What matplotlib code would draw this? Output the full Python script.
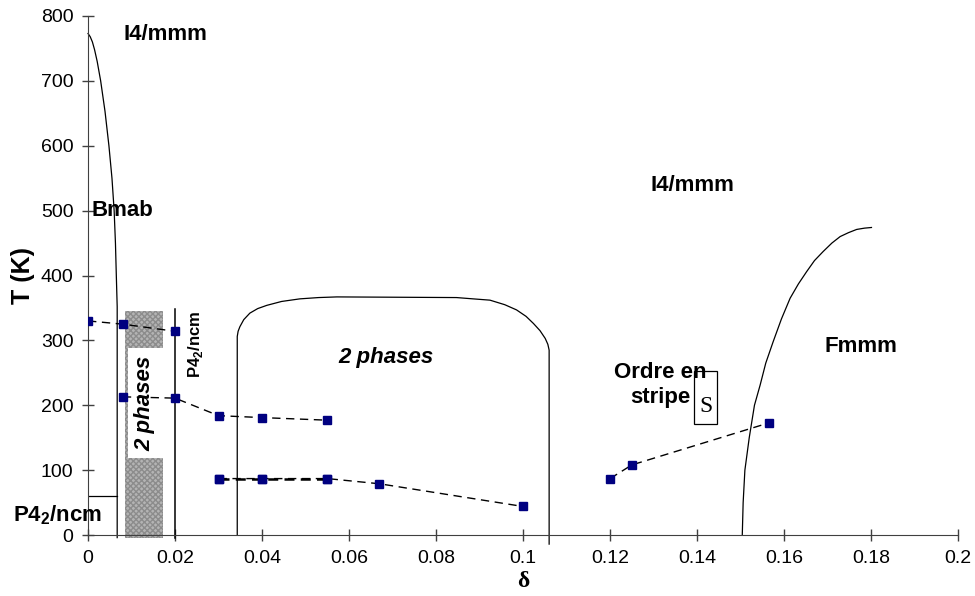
import matplotlib
matplotlib.use("Agg")
import matplotlib.pyplot as plt
from matplotlib.patches import Rectangle

plt.rcParams['font.family'] = ['Liberation Sans', 'DejaVu Sans']
plt.rcParams['mathtext.fontset'] = 'custom'
plt.rcParams['mathtext.rm'] = 'Liberation Sans'
plt.rcParams['mathtext.bf'] = 'Liberation Sans:bold'

# measured points (delta, T)
d_top = [0.0, 0.008, 0.02]
t_top = [330, 325, 314]
d_mid = [0.008, 0.02, 0.03, 0.04, 0.055]
t_mid = [213, 211, 184, 181, 177]
d_low = [0.03, 0.04, 0.055, 0.067, 0.1]
t_low = [87, 87, 87, 79, 44]
d_str = [0.12, 0.125, 0.1566]
t_str = [87, 108, 173]

# phase boundaries
d_bmab = [0.0, 0.0005, 0.001, 0.0015, 0.0021, 0.0029, 0.0039, 0.0048, 0.0055, 0.006,
          0.0063, 0.0065, 0.0067, 0.0067]
t_bmab = [773, 768, 760, 748, 730, 700, 653, 600, 550, 500, 450, 400, 352, -4]
d_dome = [0.0343, 0.0343, 0.0345, 0.0349, 0.0358, 0.0372, 0.039, 0.0411, 0.0445, 0.0487,
          0.053, 0.0572, 0.0847, 0.0885, 0.0924, 0.0958, 0.0985, 0.1007, 0.1024, 0.1039,
          0.1051, 0.1057, 0.106, 0.106]
t_dome = [0, 306, 314, 321, 332, 342, 349, 354, 360, 364, 366, 367, 366, 364, 362, 355,
          347, 337, 326, 315, 303, 294, 285, -14]
d_fmmm = [0.1504, 0.1506, 0.151, 0.152, 0.1532, 0.1545, 0.1558, 0.1575, 0.1594, 0.1614,
          0.1633, 0.1652, 0.167, 0.169, 0.171, 0.1729, 0.1748, 0.1767, 0.1785, 0.1801]
t_fmmm = [0, 50, 100, 150, 200, 231, 265, 298, 333, 365, 387, 406, 423, 437, 450, 460,
          466, 471, 473, 474]

x_ticks = [0, 0.02, 0.04, 0.06, 0.08, 0.1, 0.12, 0.14, 0.16, 0.18, 0.2]
x_labels = ["0", "0.02", "0.04", "0.06", "0.08", "0.1", "0.12", "0.14", "0.16", "0.18", "0.2"]
y_ticks = list(range(0, 801, 100))

fig = plt.figure(figsize=(9.75, 5.96), dpi=100)
ax = fig.add_axes([0.0903, 0.1023, 0.8923, 0.8709])
ax.set_xlim(0, 0.2)
ax.set_ylim(0, 800)

axis_col = '#404040'
for s in ['top', 'right']:
    ax.spines[s].set_visible(False)
for s in ['left', 'bottom']:
    ax.spines[s].set_color(axis_col)
ax.tick_params(direction='inout', length=9, width=1, color=axis_col, labelsize=14, pad=6)
ax.set_xticks(x_ticks)
ax.set_xticklabels(x_labels)
ax.set_yticks(y_ticks)

# boundaries
ax.plot(d_bmab, t_bmab, color='black', lw=0.9, clip_on=False)
ax.plot([0, 0.0067], [60, 60], color='black', lw=0.9)
ax.plot(d_dome, t_dome, color='black', lw=0.9, clip_on=False)
ax.plot(d_fmmm, t_fmmm, color='black', lw=0.9)
ax.plot([0.02, 0.02], [349, -4], color='black', lw=1.1, clip_on=False)

# shaded two-phase band
ax.add_patch(Rectangle((0.0085, -4), 0.0088, 349, facecolor='#b4b4b4',
                       edgecolor='#8c8c8c', hatch='xxxxxx', lw=0, clip_on=False, zorder=1))
ax.add_patch(Rectangle((0.0091, 118), 0.0081, 170, facecolor='white', lw=0, zorder=1.5))

# data series
mk = dict(marker='s', markersize=6, markerfacecolor='#000080', markeredgecolor='#000080')
ax.plot(d_top, t_top, color='black', lw=1, ls=(0, (6, 4)), zorder=3, **mk)
ax.plot(d_mid, t_mid, color='black', lw=1, ls=(0, (6, 4)), zorder=3, **mk)
ax.plot(d_low, t_low, color='black', lw=1, ls=(0, (6, 4)), zorder=3, **mk)
ax.plot(d_low[:3], t_low[:3], color='black', lw=1.8, ls=(0, (4, 2.5)), zorder=3, **mk)
ax.plot(d_str, t_str, color='black', lw=1, ls=(0, (6, 4)), zorder=3, **mk)

# labels
bold = dict(fontweight='bold', fontsize=16)
ax.text(0.0178, 771, "I4/mmm", ha='center', va='center', **bold)
ax.text(0.0007, 500, "Bmab", ha='left', va='center', **bold)
ax.text(0.139, 539, "I4/mmm", ha='center', va='center', **bold)
ax.text(0.1777, 290, "Fmmm", ha='center', va='center', **bold)
ax.text(0.1315, 231, "Ordre en\nstripe", ha='center', va='center', linespacing=1.25, **bold)
ax.text(0.0685, 274, "2 phases", ha='center', va='center', fontsize=16,
        fontweight='bold', style='italic')
ax.text(0.0131, 203, "2 phases", ha='center', va='center', rotation=90,
        fontsize=16, fontweight='bold', style='italic', zorder=4)
ax.text(0.0248, 294, r"P4$_\mathbf{2}$/ncm", ha='center', va='center', rotation=90,
        fontsize=12, fontweight='bold')
ax.text(-0.0173, 31, r"P4$_\mathbf{2}$/ncm", ha='left', va='center', clip_on=False, **bold)

ax.add_patch(Rectangle((0.1393, 171), 0.0054, 82, fill=False, edgecolor='black', lw=0.9, zorder=3))
ax.text(0.142, 198, "S", ha='center', va='center', fontsize=17, family='Liberation Serif')

ax.set_ylabel("T (K)", fontsize=18, fontweight='bold', labelpad=4)
ax.set_xlabel("δ", fontsize=17, fontweight='bold', family='Liberation Serif', labelpad=3)

fig.savefig("out.png", dpi=100)
